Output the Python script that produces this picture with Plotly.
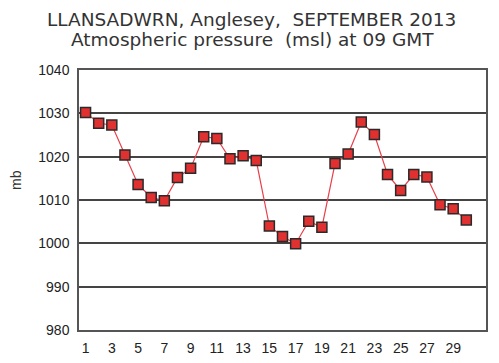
import plotly.graph_objects as go

days = list(range(1, 31))
pressure = [1030.2, 1027.7, 1027.3, 1020.4, 1013.6, 1010.6, 1009.8, 1015.2, 1017.3, 1024.6,
            1024.2, 1019.5, 1020.2, 1019.1, 1004.0, 1001.6, 999.9, 1005.1, 1003.7, 1018.4,
            1020.6, 1028.0, 1025.1, 1015.9, 1012.2, 1015.9, 1015.3, 1008.9, 1008.0, 1005.4]
x_ticks = list(range(1, 30, 2))
y_ticks = [980, 990, 1000, 1010, 1020, 1030, 1040]

fig = go.Figure()
fig.add_trace(go.Scatter(
    x=days, y=pressure, mode="lines+markers",
    line=dict(color="#e8404a", width=1.2),
    marker=dict(symbol="square", size=10, color="#e03030",
                line=dict(color="#2a2a2a", width=1.5)),
    showlegend=False,
))

# page body has an 8px margin, so the figure is offset by (8, 8)
off = 8
ml, mr, mt, mb = 79 - off, 13, 70 - off, 33
W, H = 499 - off, 363 - off
plot_h = H - mt - mb
plot_w = W - ml - mr
fig.update_layout(
    width=W, height=H,
    margin=dict(l=ml, r=mr, t=mt, b=mb),
    paper_bgcolor="white", plot_bgcolor="white",
    font=dict(family="Liberation Sans, Arial", size=14, color="#222"),
    annotations=[
        dict(text="LLANSADWRN, Anglesey,  SEPTEMBER 2013", xref="paper", yref="paper",
             x=0.5, xanchor="center", xshift=-31, y=1 + 51 / plot_h, yanchor="middle",
             showarrow=False, font=dict(family="DejaVu Sans", size=18.5, color="#333")),
        dict(text="Atmospheric pressure  (msl) at 09 GMT", xref="paper", yref="paper",
             x=0.5, xanchor="center", xshift=-30, y=1 + 30 / plot_h, yanchor="middle",
             showarrow=False, font=dict(family="DejaVu Sans", size=18.5, color="#333")),
        dict(text="mb", xref="paper", yref="paper", textangle=-90,
             x=-63 / plot_w, xanchor="center", y=150 / plot_h, yanchor="middle",
             showarrow=False, font=dict(family="Liberation Sans, Arial", size=14, color="#333")),
    ],
)
fig.update_xaxes(
    range=[0.5, 31.5], tickvals=x_ticks, ticktext=[str(v) for v in x_ticks],
    showgrid=False, zeroline=False, showline=True, linecolor="#555", linewidth=1.5,
    mirror=True, ticks="", ticklabelstandoff=4, automargin=False,
)
fig.update_yaxes(
    range=[980, 1040], tickvals=y_ticks, showgrid=True, gridcolor="#444", gridwidth=1.5,
    zeroline=False, showline=True, linecolor="#555", linewidth=1.5, mirror=True,
    ticks="", ticklabelstandoff=5, automargin=False,
)

fig.write_html("out.html")
